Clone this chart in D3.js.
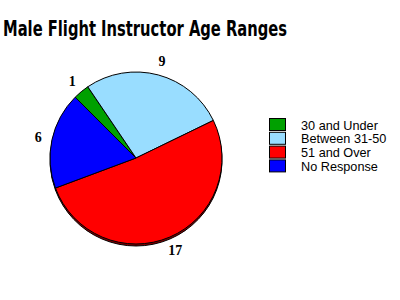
<!DOCTYPE html>
<html>
<head>
<meta charset="utf-8">
<script src="https://cdn.jsdelivr.net/npm/d3@7"></script>
<style>
  body { margin: 0; background: #fff; }
</style>
</head>
<body>
<div id="chart"></div>
<script>
// Age ranges and counts
const categories = ['30 and Under', 'Between 31-50', '51 and Over', 'No Response'];
const counts = [1, 9, 17, 6];
const colors = ['#00a000', '#99ddff', '#ff0000', '#0000ff'];
const shades = ['#005000', '#4d6e80', '#800000', '#000080'];

drawChart();

function drawChart() {
  const width = 400;
  const height = 300;
  const cx = 136;
  const cy = 158;
  const radius = 86;

  const svg = d3.select('#chart')
      .append('svg')
      .attr('width', width)
      .attr('height', height);

  // Title
  svg.append('text')
      .attr('x', 3)
      .attr('y', 36)
      .attr('textLength', 284)
      .attr('lengthAdjust', 'spacingAndGlyphs')
      .style('font-family', '"Liberation Sans Narrow", "DejaVu Sans Condensed", sans-serif')
      .style('font-weight', 'bold')
      .style('font-size', '22px')
      .text('Male Flight Instructor Age Ranges');

  const pie = d3.pie()
      .value(d => d)
      .sort(null)
      .startAngle(-Math.PI / 4)
      .endAngle(2 * Math.PI - Math.PI / 4);

  const arcs = pie(counts);
  const arc = d3.arc().innerRadius(0).outerRadius(radius);
  const labelArc = d3.arc().innerRadius(100).outerRadius(100);

  // thin rim under the pie for the 3D look
  svg.append('g')
      .attr('transform', `translate(${cx},${cy + 2})`)
      .selectAll('path')
      .data(arcs)
      .enter()
      .append('path')
      .attr('d', arc)
      .attr('fill', (d, i) => shades[i])
      .attr('stroke', '#000')
      .attr('stroke-width', 1);

  const g = svg.append('g')
      .attr('transform', `translate(${cx},${cy})`);

  g.selectAll('path')
      .data(arcs)
      .enter()
      .append('path')
      .attr('d', arc)
      .attr('fill', (d, i) => colors[i])
      .attr('stroke', '#000')
      .attr('stroke-width', 1);

  g.selectAll('text')
      .data(arcs)
      .enter()
      .append('text')
      .attr('transform', d => `translate(${labelArc.centroid(d)})`)
      .attr('text-anchor', 'middle')
      .attr('dy', '0.35em')
      .style('font-family', '"Liberation Serif", serif')
      .style('font-weight', 'bold')
      .style('font-size', '14px')
      .text(d => d.data);

  // Legend
  const legend = svg.append('g')
      .attr('transform', 'translate(269,118)');

  const rows = legend.selectAll('g')
      .data(categories)
      .enter()
      .append('g')
      .attr('transform', (d, i) => `translate(0,${i * 13.8})`);

  rows.append('rect')
      .attr('x', 0.5)
      .attr('y', 0.5)
      .attr('width', 16)
      .attr('height', 12)
      .attr('fill', (d, i) => colors[i])
      .attr('stroke', '#000');

  rows.append('text')
      .attr('x', 32)
      .attr('y', 11.5)
      .style('font-family', '"Liberation Sans", Arial, sans-serif')
      .style('font-size', '12.7px')
      .text(d => d);
}
</script>
</body>
</html>
